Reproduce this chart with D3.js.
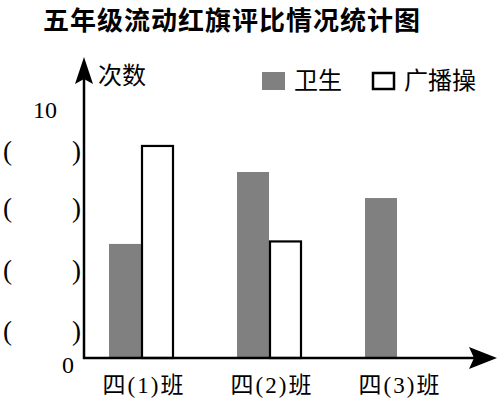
<!DOCTYPE html>
<html>
<head>
<meta charset="utf-8">
<script src="https://cdn.jsdelivr.net/npm/d3@7"></script>
<style>
  body { margin: 0; background: #fff; }
  text { fill: #000; }
</style>
</head>
<body>
<div id="chart"></div>
<script>
// data
const classes = ["四(1)班", "四(2)班", "四(3)班"];
const series = ["卫生", "广播操"];
const hygiene = [4.6, 7.5, 6.45];
const exercise = [8.55, 4.7, null];
const yTicks = [0, 1.05, 3.5, 6, 8.3, 10];
const yTickLabels = ["0", "()", "()", "()", "()", "10"];

const width = 498, height = 399;
const axisX = 84, baseY = 358;
const serif = "'Liberation Serif', 'Noto Sans CJK SC', serif";
const sans = "'Noto Sans CJK SC', sans-serif";

const svg = d3.select("#chart").append("svg")
    .attr("width", width)
    .attr("height", height);

// scales
const x0 = d3.scaleBand().domain(classes).range([77, 461]);
const x1 = d3.scaleBand().domain(series).range([32, 96]);
const y = d3.scaleLinear().domain([0, 10]).range([baseY, 110]);
const color = d3.scaleOrdinal().domain(series).range(["#808080", "#fff"]);

// title
svg.append("text")
    .attr("x", 232)
    .attr("y", 30)
    .attr("text-anchor", "middle")
    .style("font-family", sans)
    .style("font-weight", "bold")
    .style("font-size", "26px")
    .style("letter-spacing", "1px")
    .text("五年级流动红旗评比情况统计图");

// bars
const rows = classes.map((c, i) => ({ cls: c, values: [hygiene[i], exercise[i]] }));
const groups = svg.selectAll(".group")
    .data(rows)
    .enter().append("g")
    .attr("class", "group")
    .attr("transform", (d) => `translate(${x0(d.cls)}, 0)`);

groups.selectAll("rect")
    .data((d) => series.map((s, i) => ({ key: s, value: d.values[i] })).filter((v) => v.value != null))
    .enter().append("rect")
    .attr("x", (d) => x1(d.key) + (d.key === "广播操" ? 1 : 0))
    .attr("y", (d) => y(d.value))
    .attr("width", (d) => x1.bandwidth() - (d.key === "广播操" ? 1 : 0))
    .attr("height", (d) => baseY - y(d.value))
    .style("fill", (d) => color(d.key))
    .style("stroke", (d) => d.key === "广播操" ? "#000" : "none")
    .style("stroke-width", 2.2);

// x labels
svg.selectAll(".xlabel")
    .data(classes)
    .enter().append("text")
    .attr("class", "xlabel")
    .attr("x", (d) => x0(d) + x0.bandwidth() / 2 + 3)
    .attr("y", 393)
    .attr("text-anchor", "middle")
    .style("font-family", serif)
    .style("font-size", "23px")
    .style("letter-spacing", "2px")
    .text((d) => d);

// y tick labels
const ticks = svg.selectAll(".ytick")
    .data(yTicks.map((v, i) => ({ value: v, label: yTickLabels[i] })))
    .enter().append("g")
    .attr("class", "ytick")
    .attr("transform", (d) => `translate(0, ${y(d.value)})`)
    .style("font-family", serif)
    .style("font-size", "23px");

ticks.filter((d) => d.label === "()")
    .call((g) => {
        g.append("text").attr("x", 3).attr("dy", "0.3em").style("font-size", "27px").text("(");
        g.append("text").attr("x", 81).attr("dy", "0.3em").style("font-size", "27px")
            .attr("text-anchor", "end").text(")");
    });

ticks.filter((d) => d.label !== "()")
    .append("text")
    .attr("x", (d) => d.value === 0 ? 68 : 45)
    .attr("dy", (d) => d.value === 0 ? "0.62em" : "0.32em")
    .attr("text-anchor", "middle")
    .style("font-size", "24px")
    .text((d) => d.label);

// axes with arrows
svg.append("line")
    .attr("x1", axisX).attr("y1", baseY + 1)
    .attr("x2", axisX).attr("y2", 70)
    .style("stroke", "#000").style("stroke-width", 2.5);
svg.append("line")
    .attr("x1", axisX - 1).attr("y1", baseY)
    .attr("x2", 485).attr("y2", baseY)
    .style("stroke", "#000").style("stroke-width", 2.5);
svg.append("path")
    .attr("d", `M${axisX},57 L${axisX + 9},84 L${axisX},79 L${axisX - 9},84 Z`)
    .style("fill", "#000");
svg.append("path")
    .attr("d", `M497,${baseY} L469,${baseY - 11} L474,${baseY} L469,${baseY + 11} Z`)
    .style("fill", "#000");

// y axis title
svg.append("text")
    .attr("x", 98)
    .attr("y", 84)
    .style("font-family", serif)
    .style("font-size", "24px")
    .text("次数");

// legend
const legend = svg.selectAll(".legend")
    .data(series)
    .enter().append("g")
    .attr("class", "legend")
    .attr("transform", (d, i) => `translate(${[262, 372][i]}, 72)`);

legend.append("rect")
    .attr("x", (d, i) => i ? 1 : 0)
    .attr("y", (d, i) => i ? 1 : 0)
    .attr("width", (d, i) => i ? 21 : 23)
    .attr("height", (d, i) => i ? 16 : 18)
    .style("fill", color)
    .style("stroke", (d, i) => i ? "#000" : "none")
    .style("stroke-width", 2.5);

legend.append("text")
    .attr("x", 32)
    .attr("y", 17)
    .style("font-family", serif)
    .style("font-size", "24px")
    .text((d) => d);
</script>
</body>
</html>
